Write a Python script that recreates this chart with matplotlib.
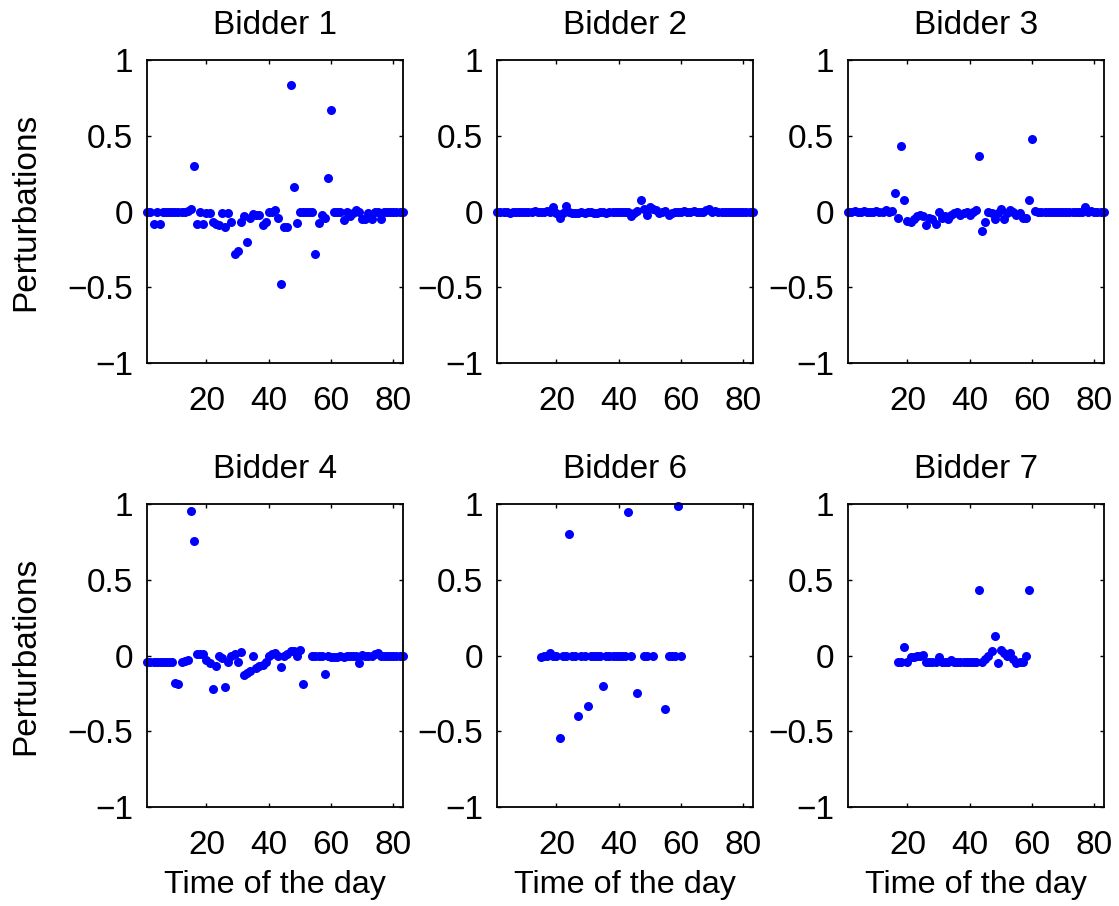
import numpy as np
import matplotlib
matplotlib.use("Agg")
import matplotlib.pyplot as plt

nan = np.nan
titles = ["Bidder 1", "Bidder 2", "Bidder 3", "Bidder 4", "Bidder 6", "Bidder 7"]
time = list(range(1, 84))

b1 = [0, 0, -0.08, 0, -0.08, 0, 0, 0, 0, 0,
      0, 0, 0, 0.005, 0.02, 0.30, -0.08, -0.005, -0.08, -0.01,
      -0.01, -0.07, -0.08, -0.09, -0.01, -0.10, -0.01, -0.07, -0.28, -0.26,
      -0.066, -0.03, -0.20, -0.04, -0.015, -0.02, -0.02, -0.09, -0.066, 0.0,
      0.0, 0.01, -0.04, -0.477, -0.10, -0.10, 0.835, 0.16, -0.077, 0.0,
      0.0, 0.0, 0.0, 0.0, -0.28, -0.077, -0.02, -0.04, 0.22, 0.67,
      0, 0, 0, -0.055, 0, -0.03, -0.01, 0.01, 0, -0.05,
      -0.05, -0.01, -0.05, 0, 0, -0.05, 0, 0, 0, 0,
      0, 0, 0]

b2 = [0, 0, -0.005, 0, -0.01, 0, 0, -0.005, 0, 0,
      -0.005, 0, 0.005, 0, -0.005, 0, 0.005, 0, 0.03, -0.01,
      -0.04, -0.01, 0.04, 0, -0.01, -0.01, -0.01, -0.005, -0.01, -0.005,
      0, -0.01, -0.01, -0.005, 0, -0.01, -0.005, 0, 0, -0.005,
      -0.005, 0, -0.005, -0.03, -0.01, 0.005, 0.077, 0.02, -0.02, 0.03,
      0.02, 0.01, -0.01, 0, 0.005, -0.02, -0.01, -0.005, 0, 0,
      0.005, 0, 0, 0.005, 0, 0, 0, 0.01, 0.02, 0,
      0.005, 0, -0.005, 0, 0, 0, 0, -0.005, 0, 0,
      0, 0, 0]

b3 = [0, 0, 0.005, 0, 0, 0.005, 0, 0, 0, 0.005,
      0, 0, 0.01, 0, 0.005, 0.12, -0.04, 0.43, 0.08, -0.06,
      -0.07, -0.05, -0.03, -0.02, -0.03, -0.09, -0.04, -0.05, -0.08, 0.0,
      -0.04, -0.03, -0.05, -0.02, -0.01, 0.0, -0.02, -0.01, -0.005, -0.02,
      0.0, 0.01, 0.37, -0.13, -0.07, 0.0, -0.01, -0.05, -0.01, 0.02,
      -0.05, -0.01, 0.01, 0.0, -0.02, -0.01, -0.04, -0.04, 0.08, 0.48,
      0.005, 0, 0, 0, 0, 0, 0, 0, 0, 0,
      0, 0, 0, 0, 0, 0, 0.03, 0, 0.005, 0,
      0, 0, 0]

b4 = [-0.044, -0.044, -0.044, -0.044, -0.044, -0.044, -0.044, -0.044, -0.044, -0.18,
      -0.184, -0.04, -0.035, -0.03, 0.956, 0.757, 0.01, 0.01, 0.01, -0.03,
      -0.05, -0.22, -0.066, 0.0, -0.015, -0.21, -0.044, 0.0, 0.01, -0.044,
      0.024, -0.13, -0.114, -0.10, 0.0, -0.08, -0.07, -0.06, -0.044, 0.0,
      0.01, 0.02, 0.0, -0.077, 0.0, 0.01, 0.03, 0.03, 0.0, 0.037,
      -0.186, nan, nan, 0.0, 0.0, 0.0, -0.005, -0.118, 0.0, -0.01,
      -0.01, -0.01, -0.005, -0.01, -0.005, 0, -0.005, 0, -0.05, 0.005,
      0, -0.005, 0, 0.01, 0.02, 0, -0.005, 0, 0, -0.005,
      0, -0.005, -0.005]

b6 = [nan, nan, nan, nan, nan, nan, nan, nan, nan, nan,
      nan, nan, nan, nan, -0.01, 0.0, 0.0, 0.015, 0.0, 0.0,
      -0.54, 0.0, 0.0, 0.80, 0.0, 0.0, -0.40, 0.0, 0.0, -0.33,
      0.0, 0.0, 0.0, 0.0, -0.20, 0.0, 0.0, 0.0, 0.0, 0.0,
      0.0, 0.0, 0.95, 0.0, nan, -0.247, nan, 0.0, 0.0, nan,
      0.0, nan, nan, nan, -0.35, 0.0, 0.0, 0.0, 0.99, 0.0,
      nan, nan, nan, nan, nan, nan, nan, nan, nan, nan,
      nan, nan, nan, nan, nan, nan, nan, nan, nan, nan,
      nan, nan, nan]

b7 = [nan, nan, nan, nan, nan, nan, nan, nan, nan, nan,
      nan, nan, nan, nan, nan, nan, -0.044, -0.044, 0.06, -0.04,
      -0.007, -0.01, 0.0, -0.005, 0.004, -0.045, -0.04, -0.045, -0.045, -0.007,
      -0.045, -0.04, -0.045, -0.03, -0.045, -0.04, -0.045, -0.04, -0.045, -0.045,
      -0.045, -0.045, 0.43, -0.045, -0.02, 0.0, 0.03, 0.13, -0.046, 0.04,
      0.015, 0.0, 0.015, -0.02, -0.05, -0.04, -0.04, 0.0, 0.43, nan,
      nan, nan, nan, nan, nan, nan, nan, nan, nan, nan,
      nan, nan, nan, nan, nan, nan, nan, nan, nan, nan,
      nan, nan, nan]

series = [b1, b2, b3, b4, b6, b7]
xticks = [20, 40, 60, 80]
yticks = [-1, -0.5, 0, 0.5, 1]
yticklabels = ["\u22121", "\u22120.5", "0", "0.5", "1"]

plt.rcParams['font.family'] = ['Liberation Sans', 'DejaVu Sans']
fig = plt.figure(figsize=(11.19, 9.06), dpi=100)
W, H = 1119, 906
lefts = [147.3, 497.3, 848.3]
tops = [60, 504]
aw, ah = 256, 303.3
FS = 24

for i, (t, ys) in enumerate(zip(titles, series)):
    r, c = divmod(i, 3)
    ax = fig.add_axes([lefts[c] / W, 1 - (tops[r] + ah) / H, aw / W, ah / H])
    ax.plot(time, ys, 'o', color=(0, 0, 1), ms=6.5, mec='none', clip_on=False)
    ax.set_xlim(1, 83.2)
    ax.set_ylim(-1, 1)
    ax.set_xticks(xticks)
    ax.set_yticks(yticks)
    ax.set_yticklabels(yticklabels)
    ax.tick_params(direction='in', top=True, right=True, length=3, width=1,
                   labelsize=FS)
    ax.tick_params(axis='x', pad=16)
    ax.tick_params(axis='y', pad=10)
    for s in ax.spines.values():
        s.set_linewidth(1.3)
    ax.set_title(t, fontsize=FS, pad=19)
    if c == 0:
        ax.set_ylabel("Perturbations", fontsize=FS, labelpad=19)
    if r == 1:
        ax.set_xlabel("Time of the day", fontsize=23.3, labelpad=7)

fig.savefig("out.png", dpi=100)
